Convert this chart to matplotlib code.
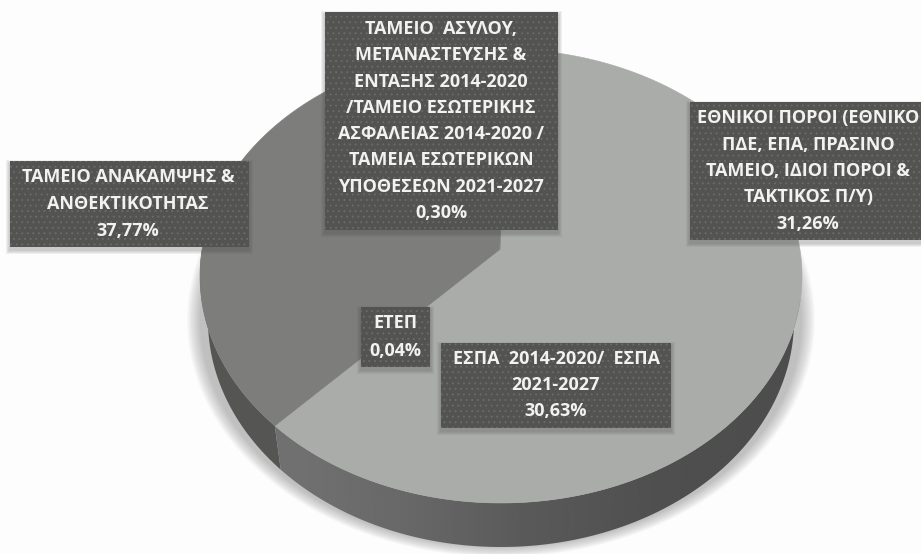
import numpy as np
import matplotlib
matplotlib.use("Agg")
import matplotlib.pyplot as plt
from matplotlib.patches import Ellipse, Polygon, Rectangle

# =========================
# DATA
# =========================

slice_names = ["ΤΑΜΕΙΟ ΑΝΑΚΑΜΨΗΣ &\nΑΝΘΕΚΤΙΚΟΤΗΤΑΣ",
               "ΕΤΕΠ",
               "ΕΣΠΑ  2014-2020/  ΕΣΠΑ\n2021-2027",
               "ΕΘΝΙΚΟΙ ΠΟΡΟΙ (ΕΘΝΙΚΟ\nΠΔΕ, ΕΠΑ, ΠΡΑΣΙΝΟ\nΤΑΜΕΙΟ, ΙΔΙΟΙ ΠΟΡΟΙ &\nΤΑΚΤΙΚΟΣ Π/Υ)",
               "ΤΑΜΕΙΟ  ΑΣΥΛΟΥ,\nΜΕΤΑΝΑΣΤΕΥΣΗΣ &\nΕΝΤΑΞΗΣ 2014-2020\n/ΤΑΜΕΙΟ ΕΣΩΤΕΡΙΚΗΣ\nΑΣΦΑΛΕΙΑΣ 2014-2020 /\nΤΑΜΕΙΑ ΕΣΩΤΕΡΙΚΩΝ\nΥΠΟΘΕΣΕΩΝ 2021-2027"]
slice_values = [37.77, 0.04, 30.63, 31.26, 0.30]
slice_colors = ["#7d7e7b", "#7d7e7b", "#aaacaa", "#aaacaa", "#7d7e7b"]

# label boxes in pixels: left, top, right, bottom, text centre x
box_left = [10, 361, 441, 690, 325]
box_top = [161, 307, 343, 102, 12]
box_right = [249, 430, 671, 925, 558]
box_bottom = [247, 367, 428, 240, 230]
text_x = [128, 395, 556, 808, 441]
line_pitch = [27, 27, 26, 26.3, 26.3]

# =========================
# PIE GEOMETRY
# =========================

CX, CY, RX, RY = 501, 276, 301, 227
APEX = (500, 250)
DEPTH = 44
LOWER_RX = 293


def rim_point(pct):
    # ray from the apex to the top ellipse, pct counted ccw from 12 o'clock
    a = np.radians(pct * 3.6)
    dx, dy = -np.sin(a) * RX, -np.cos(a) * RY
    ox, oy = (APEX[0] - CX) / RX, (APEX[1] - CY) / RY
    ux, uy = dx / RX, dy / RY
    qa = ux ** 2 + uy ** 2
    qb = 2 * (ox * ux + oy * uy)
    qc = ox ** 2 + oy ** 2 - 1
    t = (-qb + np.sqrt(qb ** 2 - 4 * qa * qc)) / (2 * qa)
    return APEX[0] + dx * t, APEX[1] + dy * t


def rim(p0, p1, n=160):
    return np.array([rim_point(p) for p in np.linspace(p0, p1, n)])


def wall_poly(p0, p1):
    # top rim plus the slightly narrower lower rim
    top = rim(p0, p1)
    low = top.copy()
    low[:, 0] = CX + (top[:, 0] - CX) * LOWER_RX / RX
    low[:, 1] = top[:, 1] + DEPTH
    return np.vstack([top, low[::-1]])


fig = plt.figure(figsize=(9.21, 5.54), dpi=100, facecolor="#fdfdfd")
ax = fig.add_axes([0, 0, 1, 1])
ax.set_axis_off()

# soft shadow under the pie
for k in range(14):
    s = 1 - k * 0.0032
    ax.add_patch(Ellipse((CX, 320), 2 * 314 * s, 2 * 237 * s, fc="#555555",
                         ec="none", alpha=0.028, zorder=1))

cum = np.concatenate([[0], np.cumsum(slice_values)])

# side wall
left_pct = 25.0
turn = cum[1]
ax.add_patch(Polygon(wall_poly(left_pct, turn), fc="#555653", ec="none", zorder=2))

wall_patch = Polygon(wall_poly(turn, 75.0), fc="none", ec="none", zorder=2)
ax.add_patch(wall_patch)
grad = np.interp(np.linspace(275, 810, 200), [275, 300, 400, 530, 660, 810],
                 [0.44, 0.44, 0.41, 0.35, 0.31, 0.30])
im = ax.imshow(grad[None, :], cmap="gray", vmin=0, vmax=1, aspect="auto",
               extent=(275, 810, 560, 300), zorder=2)
im.set_clip_path(wall_patch)

# top face
for name, p0, p1, col in zip(slice_names, cum[:-1], cum[1:], slice_colors):
    pts = np.vstack([[APEX], rim(p0, p1, max(int((p1 - p0) * 8), 4))])
    ax.add_patch(Polygon(pts, fc=col, ec=col, lw=0.4, zorder=3))

# =========================
# LABELS
# =========================

plt.rcParams["hatch.linewidth"] = 0.7

for i, name in enumerate(slice_names):
    l, t, r, b = box_left[i], box_top[i], box_right[i], box_bottom[i]
    for k in range(4):
        ax.add_patch(Rectangle((l - 1 - k, t + 2 - k), r - l + 2 + 2 * k, b - t + 2 + 2 * k,
                               fc="#444444", ec="none", alpha=0.07, zorder=4))
    ax.add_patch(Rectangle((l, t), r - l, b - t, fc="#535452", ec="#6a6b69",
                           lw=0, hatch="...", zorder=5))
    lines = name.split("\n") + [f"{slice_values[i]:.2f}%".replace(".", ",")]
    y0 = (t + b) / 2 - line_pitch[i] * (len(lines) - 1) / 2
    for j, line in enumerate(lines):
        ax.text(text_x[i], y0 + j * line_pitch[i], line, ha="center", va="center",
                family="Open Sans", weight="bold", fontsize=13, color="#f2f2f0", zorder=6)

ax.set_xlim(0, 921)
ax.set_ylim(554, 0)

fig.savefig("out.png", dpi=100, facecolor=fig.get_facecolor())
